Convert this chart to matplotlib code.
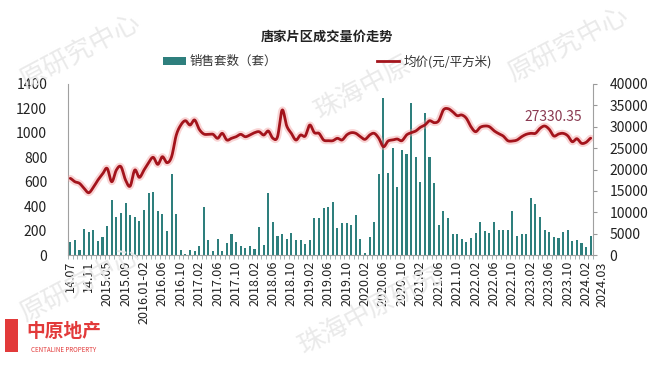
import numpy as np
import matplotlib
matplotlib.use("Agg")
import matplotlib.pyplot as plt
from matplotlib.patches import Patch, Rectangle
from matplotlib.lines import Line2D
from matplotlib.transforms import blended_transform_factory

plt.rcParams['font.family'] = ['Noto Sans CJK SC', 'DejaVu Sans']

title = "唐家片区成交量价走势"
bar_name = "销售套数（套）"
line_name = "均价(元/平方米)"

tick_labels = ["14.07", "14.11", "2015.05", "2015.09", "2016.01-02", "2016.06", "2016.10",
               "2017.02", "2017.06", "2017.10", "2018.02", "2018.06", "2018.10", "2019.02",
               "2019.06", "2019.10", "2020.02", "2020.06", "2020.10", "2021.02", "2021.06",
               "2021.10", "2022.02", "2022.06", "2022.10", "2023.02", "2023.06", "2023.10",
               "2024.02", "2024.03"]

sales = [109, 123, 41, 213, 190, 205, 115, 150, 240, 450,
         314, 341, 423, 327, 308, 278, 366, 508, 518, 360,
         335, 199, 663, 335, 46, 8, 46, 30, 76, 395,
         123, 35, 135, 35, 98, 170, 109, 78, 55, 76,
         49, 232, 82, 510, 273, 156, 169, 136, 177, 123,
         123, 91, 123, 300, 300, 388, 390, 437, 220, 259,
         259, 246, 327, 136, 16, 150, 273, 660, 1283, 674,
         873, 560, 860, 824, 1247, 805, 600, 1160, 800, 587,
         246, 359, 306, 172, 170, 136, 109, 142, 180, 273,
         200, 177, 273, 207, 207, 205, 357, 157, 170, 170,
         464, 418, 314, 205, 186, 148, 140, 186, 205, 115,
         123, 96, 63, 158]

price = [17940, 17150, 16770, 15600, 14580, 15830, 17540, 18950, 20270, 17150,
         19880, 20660, 17540, 16140, 19880, 18170, 19880, 21600, 22850, 21210,
         23000, 21600, 23000, 28000, 30400, 31410, 30400, 31580, 29400, 28300,
         28230, 28230, 27300, 28460, 26900, 27300, 27670, 28230, 27670, 28070,
         28610, 28840, 28070, 29000, 27300, 27670, 33900, 30170, 28460, 26900,
         28070, 27830, 30400, 28610, 28460, 26900, 26740, 26740, 27300, 26900,
         28070, 28610, 28460, 27670, 27060, 28070, 28460, 27300, 25330, 26660,
         26900, 27130, 26740, 28070, 28610, 29000, 29860, 30400, 31410, 30950,
         31410, 33920, 34230, 33530, 32590, 32750, 31970, 30010, 28840, 29860,
         30170, 30010, 29070, 28400, 27830, 26740, 26660, 26900, 27670, 28230,
         28460, 28460, 29630, 30170, 29400, 27830, 28300, 28460, 27910, 26500,
         27200, 26130, 26360, 27330.35]

last_label = "27330.35"

n = len(sales)
x = np.arange(n)


def catmull_rom(xs, ys, steps=12):
    xs = np.asarray(xs, float)
    ys = np.asarray(ys, float)
    px = np.concatenate([[2 * xs[0] - xs[1]], xs, [2 * xs[-1] - xs[-2]]])
    py = np.concatenate([[ys[0]], ys, [ys[-1]]])
    ox, oy = [], []
    t = np.linspace(0, 1, steps, endpoint=False)
    for i in range(1, len(px) - 2):
        for arr, out in ((px, ox), (py, oy)):
            p0, p1, p2, p3 = arr[i - 1], arr[i], arr[i + 1], arr[i + 2]
            out.extend(0.5 * ((2 * p1) + (-p0 + p2) * t +
                              (2 * p0 - 5 * p1 + 4 * p2 - p3) * t ** 2 +
                              (-p0 + 3 * p1 - 3 * p2 + p3) * t ** 3))
    ox.append(xs[-1])
    oy.append(ys[-1])
    return np.array(ox), np.array(oy)


fig = plt.figure(figsize=(6.6, 3.65), dpi=100)

# faint watermarks behind everything
wm = dict(color="#EAEAEA", fontsize=19, rotation=28, ha="center", va="center", zorder=0)
fig.text(0.12, 0.86, "原研究中心", **wm)
fig.text(0.86, 0.88, "原研究中心", **wm)
fig.text(0.55, 0.76, "珠海中原", **wm)
fig.text(0.12, 0.22, "原研究中心", **wm)
fig.text(0.56, 0.15, "珠海中原研究", **wm)

ax = fig.add_axes([0.103, 0.301, 0.7955, 0.469])
ax.patch.set_alpha(0)
ax2 = ax.twinx()

teal = "#2E7F7D"
red = "#A3141C"

ax.bar(x, sales, width=0.45, color=teal, zorder=2)
ax.set_xlim(-0.5, n - 0.5)
ax.set_ylim(0, 1400)
ax.set_yticks(range(0, 1401, 200))

sx, sy = catmull_rom(x, price)
ax2.plot(sx, sy, color="#F2A0A0", lw=5.0, alpha=0.45, solid_capstyle="round", zorder=3)
ax2.plot(sx, sy, color=red, lw=2.0, solid_capstyle="round", zorder=4)
ax2.set_ylim(0, 40000)
ax2.set_yticks(range(0, 40001, 5000))
ax2.annotate(last_label, xy=(x[-1], price[-1]), xytext=(-37, 21),
             textcoords="offset pixels", ha="center", va="center",
             fontsize=10, color="#8A3A52")

tick_pos = list(range(0, n, 4))
ax.set_xticks(tick_pos)
ax.set_xticklabels(tick_labels[:len(tick_pos)], rotation=90, fontsize=9, color="#222222")
# final period label sits just past the last category, as in the source chart
trans = blended_transform_factory(ax.transData, ax.transAxes)
ax.annotate(tick_labels[-1], xy=(n - 1, 0), xycoords=trans, xytext=(11, -6),
            textcoords="offset pixels", rotation=90, ha="center", va="top",
            fontsize=9, color="#222222", annotation_clip=False)
ax.set_xticks(np.arange(-0.5, n, 1), minor=True)
ax.tick_params(axis="x", which="major", length=0, pad=4)
ax.tick_params(axis="x", which="minor", length=3, color="#9AA8A8", width=0.6)
ax.tick_params(axis="y", length=0, labelsize=10, labelcolor="#222222", pad=15)
ax2.tick_params(axis="y", length=3, color="#999999", labelsize=10, labelcolor="#222222", pad=9)

for a in (ax, ax2):
    a.spines["top"].set_visible(False)
    for s in ("left", "right", "bottom"):
        a.spines[s].set_color("#A0A0A0")
        a.spines[s].set_linewidth(0.8)
ax.spines["right"].set_visible(False)
ax2.spines["left"].set_visible(False)
ax2.spines["bottom"].set_visible(False)

fig.text(0.496, 0.898, title, ha="center", va="center", fontsize=9.5,
         fontweight="bold", color="#222222")

handles = [Patch(facecolor=teal, edgecolor="none"),
           Line2D([0], [0], color=red, lw=2)]
fig.legend(handles, [bar_name, line_name], loc="center", bbox_to_anchor=(0.496, 0.832),
           ncol=2, frameon=False, fontsize=9, columnspacing=8.0, handlelength=1.8,
           handletextpad=0.3, handleheight=0.6, labelcolor="#333333")

# logo
fig.patches.append(Rectangle((0.008, 0.035), 0.02, 0.09, transform=fig.transFigure,
                             facecolor="#E23A3A", edgecolor="none"))
fig.text(0.097, 0.093, "中原地产", color="#E23A3A", fontsize=13.5, fontweight="bold",
         ha="center", va="center")
fig.text(0.097, 0.04, "CENTALINE PROPERTY", color="#E23A3A", fontsize=4.5,
         ha="center", va="center")

fig.savefig("out.png", dpi=100)
